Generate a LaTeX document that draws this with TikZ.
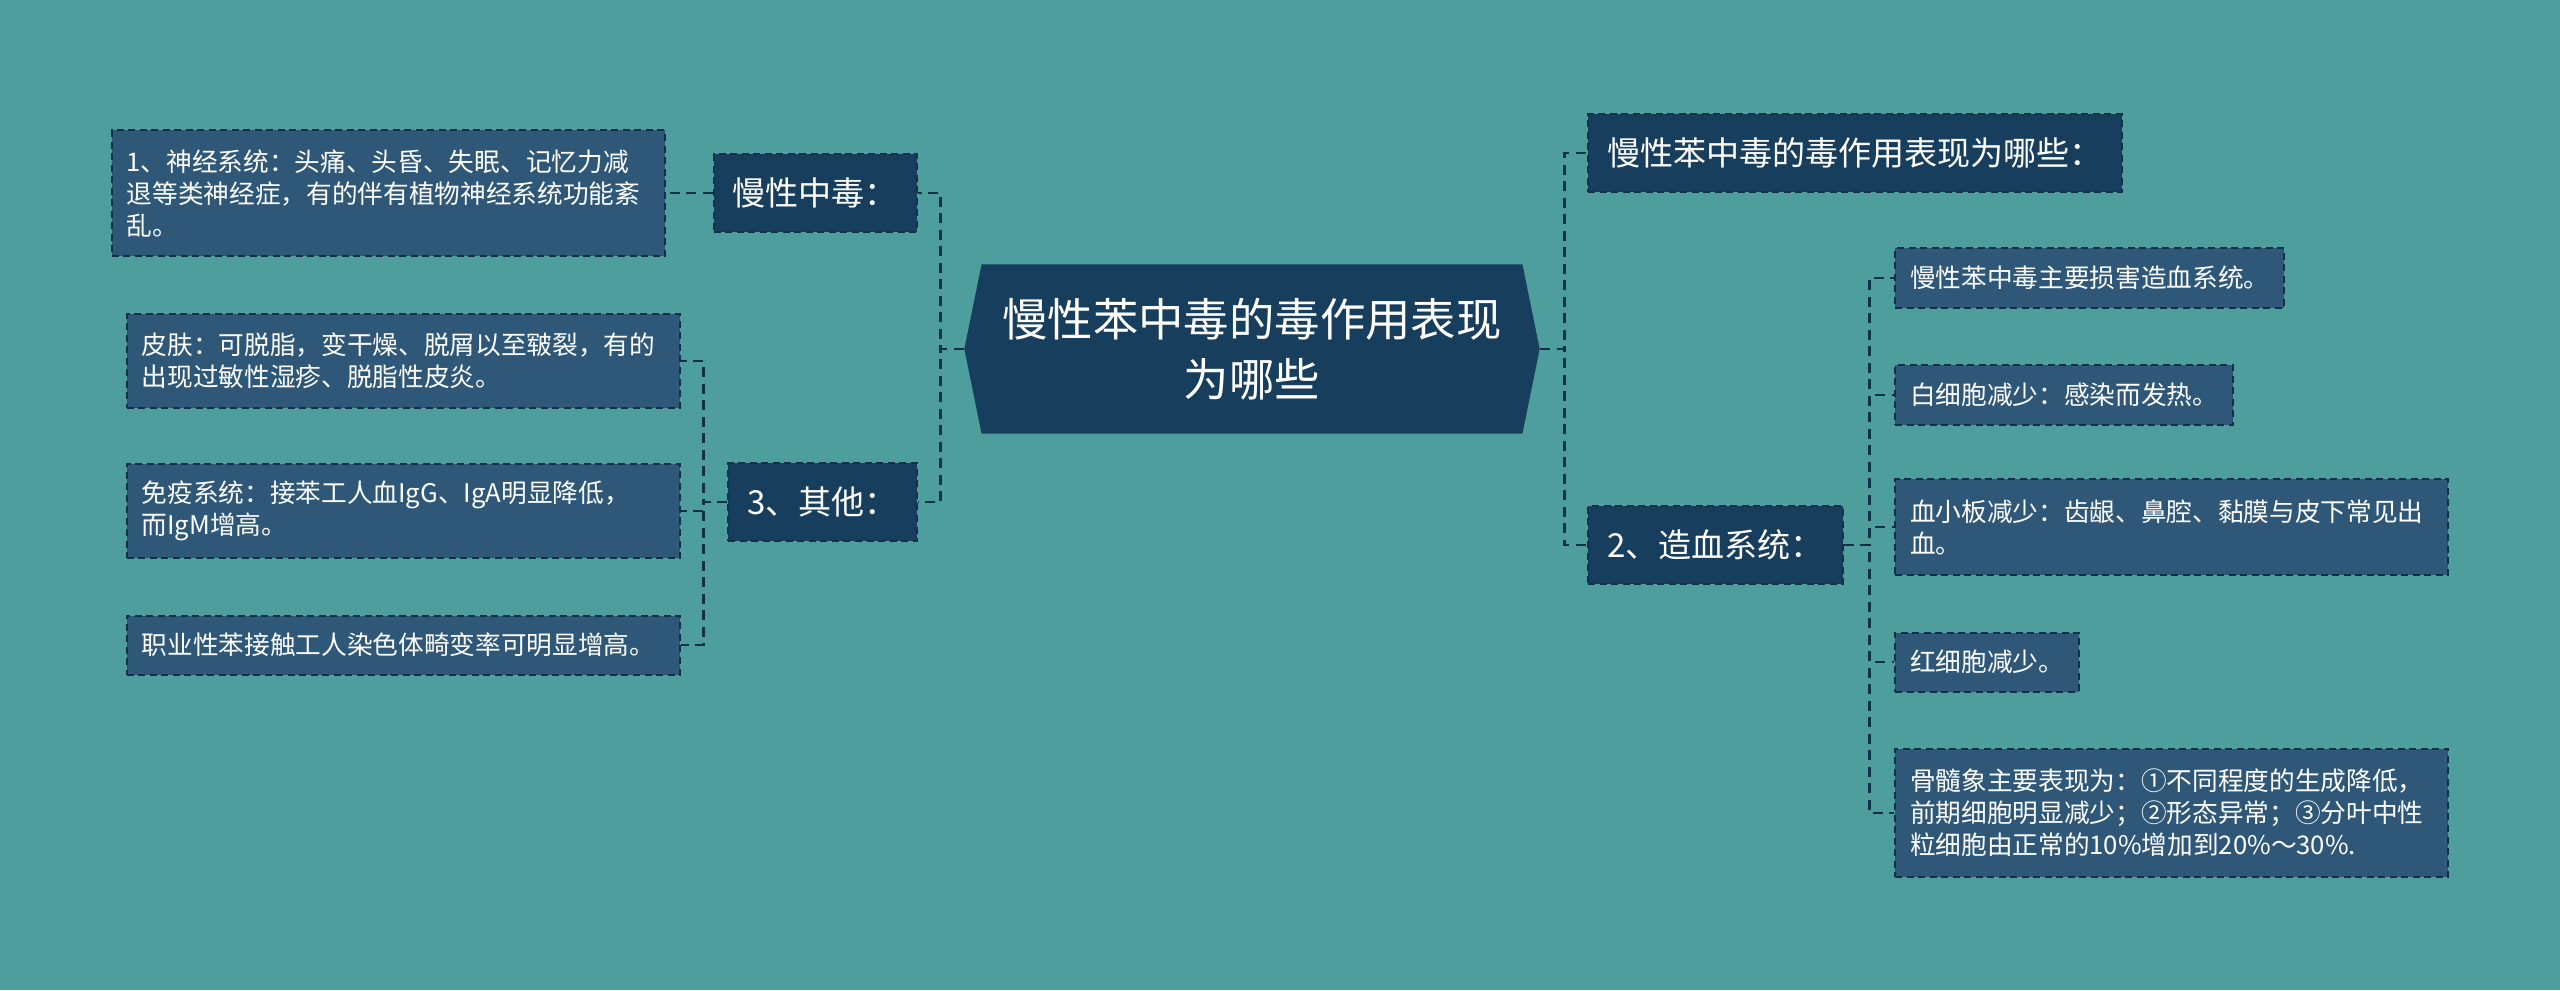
\documentclass[tikz,border=0pt]{standalone}
\usepackage{fontspec}
\setmainfont{Noto Sans CJK SC}
\definecolor{bgteal}{RGB}{78, 158, 158}
\definecolor{navy1}{RGB}{24, 62, 93}
\definecolor{leafblue}{RGB}{47, 88, 120}
\definecolor{edgeblue}{RGB}{18, 48, 74}
\usetikzlibrary{shapes.symbols, positioning}
\tikzset{
  conn/.style={draw=edgeblue, line width=0.028cm, dash pattern=on 0.1cm off 0.065cm},
  rootbox/.style={shape=signal, signal to=west and east, signal pointer angle=157, fill=navy1, text=white,
    align=center, font=\fontsize{12.9pt}{17pt}\selectfont, minimum width=5.75cm, minimum height=1.69cm, inner sep=0pt},
  topicbox/.style={fill=navy1, draw=edgeblue, line width=0.02cm, dash pattern=on 0.07cm off 0.045cm, text=white,
    font=\fontsize{9.4pt}{11pt}\selectfont, inner xsep=0.19cm, inner ysep=0.05cm, minimum height=0.77cm},
  leaf/.style={fill=leafblue, draw=edgeblue, line width=0.02cm, dash pattern=on 0.07cm off 0.045cm, text=white,
    font=\fontsize{7.3pt}{9.1pt}\selectfont, inner xsep=0.15cm, inner ysep=0.05cm, minimum height=0.59cm},
  leafwide/.style={leaf, text width=5.23cm, align=left, minimum height=#1}
}

\begin{document}
\begin{tikzpicture}[x=0.01cm, y=-0.01cm]
  \fill[bgteal] (0,0) rectangle (2560,990);
  \useasboundingbox (0,0) rectangle (2560,990);

  \node[rootbox] (root) at (1252,349) {慢性苯中毒的毒作用表现\\为哪些};

  \node[topicbox, anchor=west] (poison) at (1587,153) {慢性苯中毒的毒作用表现为哪些：};
  \node[topicbox, anchor=west] (blood) at (1587,545) {2、造血系统：};
  \node[topicbox, anchor=east] (chronic) at (918,193) {慢性中毒：};
  \node[topicbox, anchor=east] (other) at (918,502) {3、其他：};

  \node[leaf, anchor=west] (blood1) at (1894,278) {慢性苯中毒主要损害造血系统。};
  \node[leaf, anchor=west] (blood2) at (1894,395) {白细胞减少：感染而发热。};
  \node[leafwide=0.95cm, anchor=west] (blood3) at (1894,527) {血小板减少：齿龈、鼻腔、黏膜与皮下常见出\\血。};
  \node[leaf, anchor=west] (blood4) at (1894,662) {红细胞减少。};
  \node[leafwide=1.28cm, anchor=west] (blood5) at (1894,813) {骨髓象主要表现为：①不同程度的生成降低，\\前期细胞明显减少；②形态异常；③分叶中性\\粒细胞由正常的10\%增加到20\%～30\%.};

  \node[leafwide=1.25cm, anchor=east] (nerve) at (666,193) {1、神经系统：头痛、头昏、失眠、记忆力减\\退等类神经症，有的伴有植物神经系统功能紊\\乱。};
  \node[leafwide=0.93cm, anchor=east] (skin) at (681,361) {皮肤：可脱脂，变干燥、脱屑以至皲裂，有的\\出现过敏性湿疹、脱脂性皮炎。};
  \node[leafwide=0.94cm, anchor=east] (immune) at (681,511) {免疫系统：接苯工人血IgG、IgA明显降低，\\而IgM增高。};
  \node[leafwide=0.59cm, anchor=east] (chromo) at (681,645) {职业性苯接触工人染色体畸变率可明显增高。};

  \draw[conn] (root.east) -- ++(24,0) |- (poison.west);
  \draw[conn] (root.east) -- ++(24,0) |- (blood.west);
  \draw[conn] (root.west) -- ++(-23,0) |- (chronic.east);
  \draw[conn] (root.west) -- ++(-23,0) |- (other.east);
  \foreach \n in {blood1, blood2, blood3, blood4, blood5}
    \draw[conn] (blood.east) -- ++(26,0) |- (\n.west);
  \foreach \n in {skin, immune, chromo}
    \draw[conn] (other.west) -- ++(-24,0) |- (\n.east);
  \draw[conn] (chronic.west) -- (nerve.east);
\end{tikzpicture}
\end{document}
